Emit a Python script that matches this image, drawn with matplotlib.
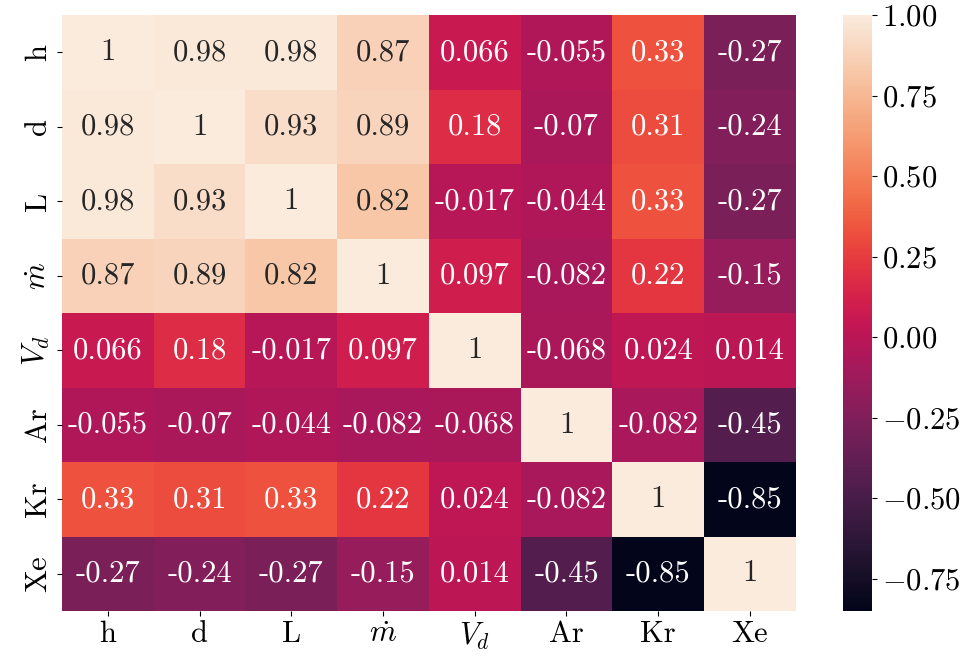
import matplotlib
matplotlib.use("Agg")
import matplotlib.pyplot as plt
import numpy as np
import seaborn as sns

labels = ["h", "d", "L", r"$\dot{m}$", r"$V_d$", "Ar", "Kr", "Xe"]

row_h = [1, 0.98, 0.98, 0.87, 0.066, -0.055, 0.33, -0.27]
row_d = [0.98, 1, 0.93, 0.89, 0.18, -0.07, 0.31, -0.24]
row_L = [0.98, 0.93, 1, 0.82, -0.017, -0.044, 0.33, -0.27]
row_m = [0.87, 0.89, 0.82, 1, 0.097, -0.082, 0.22, -0.15]
row_Vd = [0.066, 0.18, -0.017, 0.097, 1, -0.068, 0.024, 0.014]
row_Ar = [-0.055, -0.07, -0.044, -0.082, -0.068, 1, -0.082, -0.45]
row_Kr = [0.33, 0.31, 0.33, 0.22, 0.024, -0.082, 1, -0.85]
row_Xe = [-0.27, -0.24, -0.27, -0.15, 0.014, -0.45, -0.85, 1]

corr = np.array([row_h, row_d, row_L, row_m, row_Vd, row_Ar, row_Kr, row_Xe])

plt.rcParams["font.family"] = "serif"
plt.rcParams["font.serif"] = ["cmr10"]
plt.rcParams["mathtext.fontset"] = "cm"
plt.rcParams["axes.formatter.use_mathtext"] = True

fig = plt.figure(figsize=(9.77, 6.65), dpi=100)
ax = fig.add_axes([0.0635, 0.0812, 0.751, 0.896])
cax = fig.add_axes([0.863, 0.0812, 0.030, 0.896])

sns.heatmap(corr, annot=True, fmt=".2g", cmap="rocket", ax=ax, cbar_ax=cax,
            xticklabels=labels, yticklabels=labels,
            annot_kws={"fontsize": 22})

ax.tick_params(labelsize=22)
cax.tick_params(labelsize=22)
plt.setp(ax.get_yticklabels(), rotation=90, va="center")
plt.setp(ax.get_xticklabels(), rotation=0)

fig.savefig("out.png", dpi=100)
